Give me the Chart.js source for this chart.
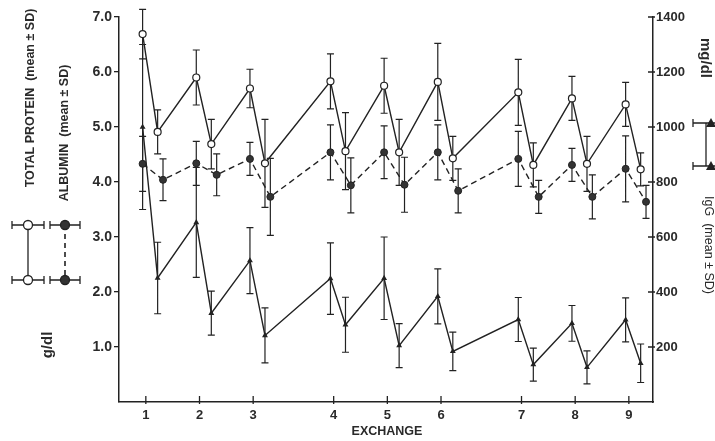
<!DOCTYPE html>
<html>
<head>
<meta charset="utf-8">
<script src="https://cdn.jsdelivr.net/npm/chart.js@4/dist/chart.umd.min.js"></script>
<style>
  html, body { margin: 0; padding: 0; background: #fff; }
  #wrap { width: 715px; height: 441px; }
</style>
</head>
<body>
<div id="wrap"><canvas id="myChart" width="715" height="441"></canvas></div>
<script>
// Data
const exchanges = ['1', '2', '3', '4', '5', '6', '7', '8', '9'];
// tick positions on the x axis (groups of three with a wider gap)
const exchangeTicks = [0, 1, 2, 3.5, 4.5, 5.5, 7, 8, 9];
const leftTicks = [1, 2, 3, 4, 5, 6, 7];
const rightTicks = [200, 400, 600, 800, 1000, 1200, 1400];

// total protein, g/dl (pre / post each exchange)
const tpPre = [6.69, 5.90, 5.70, 5.83, 5.75, 5.82, 5.63, 5.52, 5.41];
const tpPost = [4.91, 4.69, 4.34, 4.56, 4.54, 4.43, 4.31, 4.33, 4.23];
const tpPreSD = [0.45, 0.5, 0.35, 0.5, 0.5, 0.7, 0.6, 0.4, 0.4];
const tpPostSD = [0.4, 0.45, 0.8, 0.7, 0.6, 0.4, 0.4, 0.5, 0.3];

// albumin, g/dl
const albPre = [4.33, 4.34, 4.42, 4.54, 4.54, 4.54, 4.42, 4.31, 4.24];
const albPost = [4.04, 4.13, 3.73, 3.94, 3.95, 3.84, 3.73, 3.73, 3.64];
const albPreSD = [0.5, 0.4, 0.3, 0.5, 0.48, 0.5, 0.5, 0.3, 0.6];
const albPostSD = [0.38, 0.38, 0.7, 0.5, 0.5, 0.4, 0.3, 0.4, 0.3];

// IgG, mg/dl
const iggPre = [1000, 653, 514, 449, 450, 384, 300, 286, 299];
const iggPost = [451, 323, 242, 281, 205, 184, 136, 126, 141];
const iggPreSD = [300, 200, 120, 130, 150, 100, 80, 65, 80];
const iggPostSD = [130, 80, 100, 100, 80, 70, 60, 60, 70];

const ink = '#222';
const textCol = '#2a2a2a';
const font = "'Liberation Sans', Arial, sans-serif";

// pre point slightly before the tick, post point after it
const pairs = (pre, post, postShift) => exchangeTicks.flatMap((t, i) => [
    { x: t - 0.06, y: pre[i] },
    { x: t + postShift, y: post[i] }
]);
const sds = (pre, post) => pre.flatMap((v, i) => [v, post[i]]);

// Error bars
const errorBars = {
    id: 'errorBars',
    beforeDatasetsDraw(chart) {
        const c = chart.ctx;
        chart.data.datasets.forEach((ds, i) => {
            const meta = chart.getDatasetMeta(i);
            const ys = chart.scales[ds.yAxisID];
            c.save();
            c.strokeStyle = ink;
            c.lineWidth = 1.2;
            c.beginPath();
            ds.data.forEach((p, j) => {
                const x = meta.data[j].x;
                const top = ys.getPixelForValue(p.y + ds.errors[j]);
                const bot = ys.getPixelForValue(p.y - ds.errors[j]);
                c.moveTo(x, top); c.lineTo(x, bot);
                c.moveTo(x - 3.5, top); c.lineTo(x + 3.5, top);
                c.moveTo(x - 3.5, bot); c.lineTo(x + 3.5, bot);
            });
            c.stroke();
            c.restore();
        });
    }
};

// inner ticks, side labels and legend
const hBar = (c, x1, x2, y) => {
    c.beginPath();
    c.moveTo(x1, y); c.lineTo(x2, y);
    c.moveTo(x1, y - 4); c.lineTo(x1, y + 4);
    c.moveTo(x2, y - 4); c.lineTo(x2, y + 4);
    c.stroke();
};
const dot = (c, x, y, fill) => {
    c.beginPath();
    c.arc(x, y, 4.5, 0, Math.PI * 2);
    c.fillStyle = fill;
    c.fill();
    c.stroke();
};
const tri = (c, x, y) => {
    c.beginPath();
    c.moveTo(x, y - 5); c.lineTo(x + 5, y + 4); c.lineTo(x - 5, y + 4);
    c.closePath();
    c.fillStyle = ink;
    c.fill();
};
const rotText = (c, text, x, y, angle, size, weight) => {
    c.save();
    c.translate(x, y);
    c.rotate(angle);
    c.font = weight + ' ' + size + 'px ' + font;
    c.fillStyle = textCol;
    c.textAlign = 'center';
    c.textBaseline = 'middle';
    c.fillText(text, 0, 0);
    c.restore();
};

const decorations = {
    id: 'decorations',
    afterDraw(chart) {
        const c = chart.ctx;
        const xs = chart.scales.x;
        const y2 = chart.scales.y2;
        c.save();
        c.strokeStyle = ink;
        c.lineWidth = 1.3;
        // x ticks pointing inward
        c.beginPath();
        exchangeTicks.forEach(t => {
            const px = xs.getPixelForValue(t);
            c.moveTo(px, xs.top + 2); c.lineTo(px, xs.top - 6);
        });
        // right axis ticks pointing inward
        rightTicks.forEach(v => {
            const py = y2.getPixelForValue(v);
            c.moveTo(y2.left + 2, py); c.lineTo(y2.left - 5, py);
        });
        c.stroke();

        // left legend
        c.lineWidth = 1.3;
        hBar(c, 12, 44, 225);
        hBar(c, 12, 44, 280);
        c.beginPath(); c.moveTo(28, 225); c.lineTo(28, 280); c.stroke();
        dot(c, 28, 225, '#fff');
        dot(c, 28, 280, '#fff');

        hBar(c, 50, 80, 225);
        hBar(c, 50, 80, 280);
        c.save();
        c.setLineDash([5, 4]);
        c.lineWidth = 1.6;
        c.beginPath(); c.moveTo(65, 225); c.lineTo(65, 280); c.stroke();
        c.restore();
        dot(c, 65, 225, '#333');
        dot(c, 65, 280, '#333');

        // right legend
        hBar(c, 693, 716, 123);
        hBar(c, 693, 716, 166);
        c.beginPath(); c.moveTo(706, 123); c.lineTo(706, 166); c.stroke();
        tri(c, 711, 123);
        tri(c, 711, 166);
        c.restore();

        rotText(c, 'TOTAL PROTEIN  (mean \u00b1 SD)', 31, 98, -Math.PI / 2, 12.5, 'bold');
        rotText(c, 'ALBUMIN  (mean \u00b1 SD)', 65, 133, -Math.PI / 2, 12.5, 'bold');
        rotText(c, 'g/dl', 48, 345, -Math.PI / 2, 15, 'bold');
        rotText(c, 'mg/dl', 705, 58, Math.PI / 2, 15, 'bold');
        rotText(c, 'IgG  (mean \u00b1 SD)', 708, 245, Math.PI / 2, 12.5, 'normal');
        rotText(c, 'EXCHANGE', 387, 432, 0, 12.5, 'bold');
    }
};

const ctx = document.getElementById('myChart').getContext('2d');
const myChart = new Chart(ctx, {
    type: 'line',
    data: {
        datasets: [{
            label: 'TOTAL PROTEIN',
            data: pairs(tpPre, tpPost, 0.22),
            errors: sds(tpPreSD, tpPostSD),
            yAxisID: 'y',
            borderColor: ink,
            borderWidth: 1.4,
            pointRadius: 3.5,
            pointBackgroundColor: '#fff',
            pointBorderColor: ink,
            pointBorderWidth: 1.2,
            tension: 0
        }, {
            label: 'ALBUMIN',
            data: pairs(albPre, albPost, 0.32),
            errors: sds(albPreSD, albPostSD),
            yAxisID: 'y',
            borderColor: ink,
            borderWidth: 1.4,
            borderDash: [6, 4],
            pointRadius: 3.5,
            pointBackgroundColor: '#333',
            pointBorderColor: ink,
            pointBorderWidth: 1,
            tension: 0
        }, {
            label: 'IgG',
            data: pairs(iggPre, iggPost, 0.22),
            errors: sds(iggPreSD, iggPostSD),
            yAxisID: 'y2',
            borderColor: ink,
            borderWidth: 1.4,
            pointStyle: 'triangle',
            pointRadius: 2,
            pointBackgroundColor: ink,
            pointBorderColor: ink,
            tension: 0
        }]
    },
    options: {
        responsive: false,
        animation: false,
        devicePixelRatio: 1,
        layout: { padding: { top: 17, left: 0, right: 0, bottom: 0 } },
        plugins: {
            legend: false,
            tooltip: { enabled: false }
        },
        scales: {
            x: {
                type: 'linear',
                min: -0.5,
                max: 9.45,
                afterBuildTicks: axis => { axis.ticks = exchangeTicks.map(v => ({ value: v })); },
                afterFit: axis => { axis.height = 39; },
                grid: { display: true, drawOnChartArea: false, drawTicks: false },
                border: { display: true, color: ink, width: 1.5 },
                ticks: {
                    padding: 6,
                    maxRotation: 0,
                    autoSkip: false,
                    color: textCol,
                    font: { family: font, size: 13, weight: 'bold' },
                    callback: v => exchanges[exchangeTicks.indexOf(v)]
                }
            },
            y: {
                position: 'left',
                min: 0,
                max: 7,
                afterBuildTicks: axis => { axis.ticks = leftTicks.map(v => ({ value: v })); },
                afterFit: axis => { axis.width = 119; },
                grid: { display: true, drawOnChartArea: false, drawTicks: true, tickLength: 5, color: ink, lineWidth: 1.3 },
                border: { display: true, color: ink, width: 1.5 },
                ticks: {
                    padding: 2,
                    color: textCol,
                    font: { family: font, size: 14, weight: 'bold' },
                    callback: v => v.toFixed(1)
                }
            },
            y2: {
                position: 'right',
                min: 0,
                max: 1400,
                afterBuildTicks: axis => { axis.ticks = rightTicks.map(v => ({ value: v })); },
                afterFit: axis => { axis.width = 62; },
                grid: { display: true, drawOnChartArea: false, drawTicks: false },
                border: { display: true, color: ink, width: 1.5 },
                ticks: {
                    padding: 3,
                    color: textCol,
                    font: { family: font, size: 13, weight: 'bold' },
                    callback: v => String(v)
                }
            }
        }
    },
    plugins: [errorBars, decorations]
});
</script>
</body>
</html>
